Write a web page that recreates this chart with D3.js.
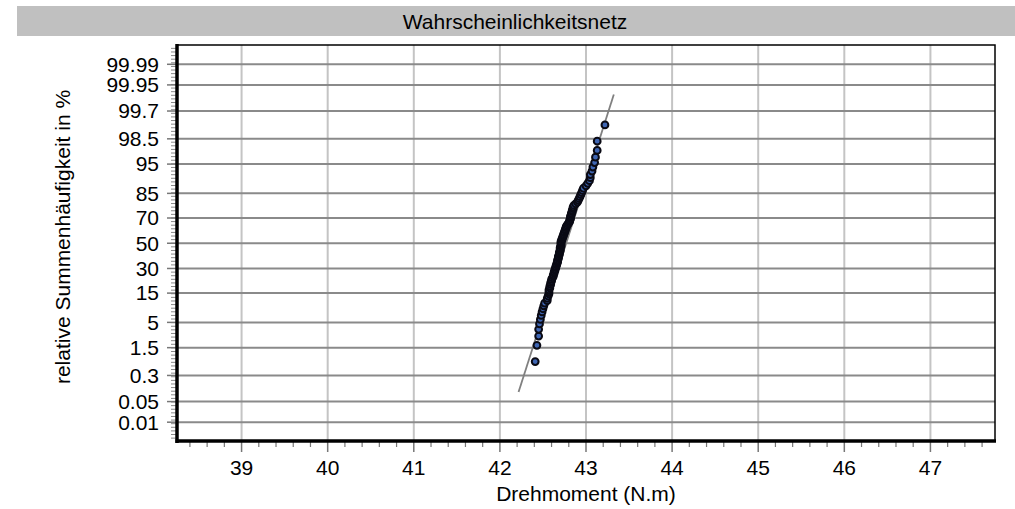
<!DOCTYPE html>
<html>
<head>
<style>
  body { margin: 0; background: #fff; }
  svg { font-family: Arial, "Liberation Sans", sans-serif; }
</style>
</head>
<body>
<script src="https://d3js.org/d3.v7.min.js"></script>
<div id="chart"></div>
<script>
// y axis: cumulative % labels of the probability paper
const probTicks = [0.01, 0.05, 0.3, 1.5, 5, 15, 30, 50, 70, 85, 95, 98.5, 99.7, 99.95, 99.99];
const xTicks = [39, 40, 41, 42, 43, 44, 45, 46, 47];
const torque = [
  42.41, 42.43, 42.45, 42.45, 42.46, 42.47, 42.48, 42.49, 42.50, 42.51,
  42.52, 42.55, 42.55, 42.56, 42.57, 42.57, 42.57, 42.58, 42.58, 42.59,
  42.59, 42.60, 42.60, 42.61, 42.62, 42.62, 42.63, 42.63, 42.64, 42.64,
  42.65, 42.65, 42.66, 42.66, 42.67, 42.67, 42.67, 42.68, 42.68, 42.68,
  42.69, 42.69, 42.69, 42.70, 42.70, 42.70, 42.70, 42.71, 42.71, 42.71,
  42.71, 42.71, 42.72, 42.72, 42.73, 42.73, 42.74, 42.74, 42.75, 42.75,
  42.76, 42.76, 42.77, 42.77, 42.78, 42.79, 42.80, 42.81, 42.81, 42.82,
  42.82, 42.82, 42.83, 42.83, 42.84, 42.84, 42.85, 42.85, 42.86, 42.88,
  42.90, 42.91, 42.92, 42.93, 42.94, 42.95, 42.96, 42.97, 43.00, 43.02,
  43.04, 43.05, 43.05, 43.07, 43.08, 43.10, 43.11, 43.13, 43.13, 43.22
];
// fitted normal line (mean, std dev) and its extent in cumulative %
const fitMean = 42.77;
const fitSd = 0.179;
const fitRange = [0.1, 99.9];

const width = 1015, height = 509;
const m = {left: 177, right: 995, top: 45, bottom: 441};
const fs = '21px';

// inverse normal CDF (Acklam)
function probit(p) {
  const a = [-39.69683028665376, 220.9460984245205, -275.9285104469687, 138.3577518672690, -30.66479806614716, 2.506628277459239];
  const b = [-54.47609879822406, 161.5858368580409, -155.6989798598866, 66.80131188771972, -13.28068155288572];
  const c = [-0.007784894002430293, -0.3223964580411365, -2.400758277161838, -2.549732539343734, 4.374664141464968, 2.938163982698783];
  const d = [0.007784695709041462, 0.3224671290700398, 2.445134137142996, 3.754408661907416];
  const pl = 0.02425;
  let q, r;
  if (p < pl) {
    q = Math.sqrt(-2 * Math.log(p));
    return (((((c[0]*q+c[1])*q+c[2])*q+c[3])*q+c[4])*q+c[5]) / ((((d[0]*q+d[1])*q+d[2])*q+d[3])*q+1);
  } else if (p <= 1 - pl) {
    q = p - 0.5; r = q*q;
    return (((((a[0]*r+a[1])*r+a[2])*r+a[3])*r+a[4])*r+a[5])*q / (((((b[0]*r+b[1])*r+b[2])*r+b[3])*r+b[4])*r+1);
  } else {
    q = Math.sqrt(-2 * Math.log(1 - p));
    return -(((((c[0]*q+c[1])*q+c[2])*q+c[3])*q+c[4])*q+c[5]) / ((((d[0]*q+d[1])*q+d[2])*q+d[3])*q+1);
  }
}

const x = d3.scaleLinear().domain([38.25, 47.75]).range([m.left, m.right]);
const z = d3.scaleLinear().domain([-4.11, 4.12]).range([m.bottom, m.top]);
const yPct = pct => z(probit(pct / 100));

const svg = d3.select('#chart').append('svg')
  .attr('width', width).attr('height', height);

// title bar
svg.append('rect').attr('x', 17).attr('y', 6).attr('width', width - 17).attr('height', 30)
  .attr('fill', '#c0c0c0');
svg.append('text').attr('x', 515).attr('y', 28.5).attr('text-anchor', 'middle')
  .style('font-size', fs).attr('fill', '#000').text('Wahrscheinlichkeitsnetz');

// vertical grid
svg.append('g').selectAll('line').data(xTicks).join('line')
  .attr('x1', d => x(d)).attr('x2', d => x(d))
  .attr('y1', m.top).attr('y2', m.bottom)
  .attr('stroke', '#c4c4c4').attr('stroke-width', 2);

// horizontal grid
svg.append('g').selectAll('line').data(probTicks).join('line')
  .attr('x1', m.left).attr('x2', m.right)
  .attr('y1', d => yPct(d)).attr('y2', d => yPct(d))
  .attr('stroke', '#8a8a8a').attr('stroke-width', 2);

// frame
svg.append('rect').attr('x', m.left).attr('y', m.top)
  .attr('width', m.right - m.left).attr('height', m.bottom - m.top)
  .attr('fill', 'none').attr('stroke', '#000').attr('stroke-width', 1.5);

// y minor ticks
const zMinor = d3.range(-4.05, 4.1, 0.075);
svg.append('g').selectAll('line').data(zMinor).join('line')
  .attr('x1', m.left - 6).attr('x2', m.left)
  .attr('y1', d => z(d)).attr('y2', d => z(d))
  .attr('stroke', '#888').attr('stroke-width', 1);
// y major ticks + labels
svg.append('g').selectAll('line').data(probTicks).join('line')
  .attr('x1', m.left - 10).attr('x2', m.left)
  .attr('y1', d => yPct(d)).attr('y2', d => yPct(d))
  .attr('stroke', '#777').attr('stroke-width', 1.5);
svg.append('g').selectAll('text').data(probTicks).join('text')
  .attr('x', m.left - 18).attr('y', d => yPct(d)).attr('dy', '0.35em')
  .attr('text-anchor', 'end').style('font-size', fs)
  .text(d => d);

// x minor ticks
const xMinor = d3.range(38.4, 47.75, 0.2).filter(v => Math.abs(v - Math.round(v)) > 0.01);
svg.append('g').selectAll('line').data(xMinor).join('line')
  .attr('x1', d => x(d)).attr('x2', d => x(d))
  .attr('y1', m.bottom).attr('y2', m.bottom + 6)
  .attr('stroke', '#777').attr('stroke-width', 1.2);
svg.append('g').selectAll('line').data(xTicks).join('line')
  .attr('x1', d => x(d)).attr('x2', d => x(d))
  .attr('y1', m.bottom).attr('y2', m.bottom + 11)
  .attr('stroke', '#777').attr('stroke-width', 1.5);
svg.append('g').selectAll('text').data(xTicks).join('text')
  .attr('x', d => x(d)).attr('y', 475).attr('text-anchor', 'middle')
  .style('font-size', fs).text(d => d);

// thick left and bottom axis lines
svg.append('line').attr('x1', m.left).attr('x2', m.left).attr('y1', m.top - 1).attr('y2', m.bottom + 2)
  .attr('stroke', '#000').attr('stroke-width', 3.5);
svg.append('line').attr('x1', m.left - 1.5).attr('x2', m.right + 1).attr('y1', m.bottom).attr('y2', m.bottom)
  .attr('stroke', '#000').attr('stroke-width', 3.5);

// axis titles
svg.append('text').attr('x', 586).attr('y', 501).attr('text-anchor', 'middle')
  .style('font-size', fs).text('Drehmoment (N.m)');
svg.append('text').attr('transform', 'translate(70,237) rotate(-90)').attr('text-anchor', 'middle')
  .style('font-size', fs).text('relative Summenhäufigkeit in %');

// fitted line
svg.append('line')
  .attr('x1', x(fitMean + fitSd * probit(fitRange[0] / 100)))
  .attr('y1', yPct(fitRange[0]))
  .attr('x2', x(fitMean + fitSd * probit(fitRange[1] / 100)))
  .attr('y2', yPct(fitRange[1]))
  .attr('stroke', '#808080').attr('stroke-width', 1.8);

// points at median ranks (Benard)
const n = torque.length;
svg.append('g').selectAll('circle').data(torque).join('circle')
  .attr('cx', d => x(d))
  .attr('cy', (d, i) => yPct((i + 1 - 0.3) / (n + 0.4) * 100))
  .attr('r', 3.4)
  .attr('fill', '#3f66b3').attr('stroke', '#0a0a14').attr('stroke-width', 2);
</script>
</body>
</html>
